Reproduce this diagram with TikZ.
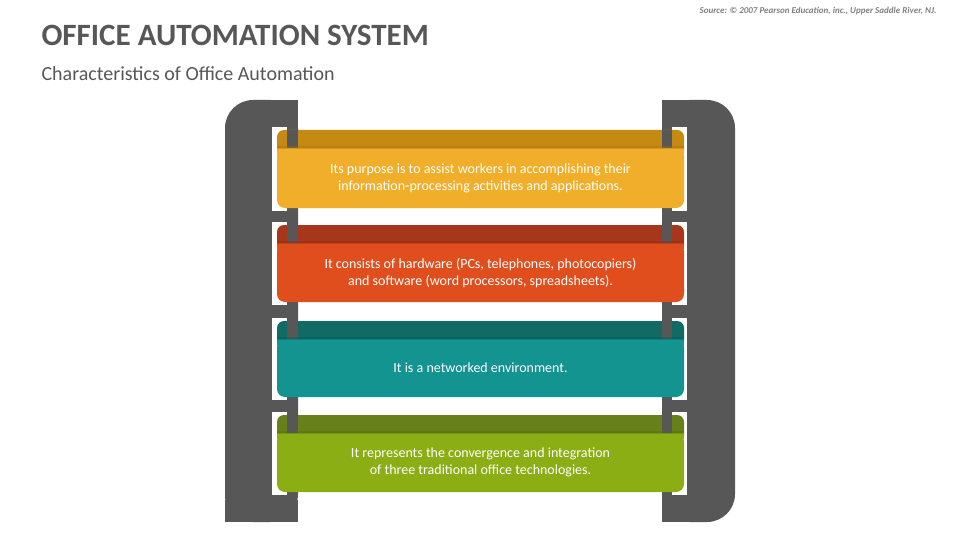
\documentclass[tikz,border=0pt]{standalone}
\usepackage{fontspec}
\setmainfont{Carlito}
\begin{document}
\begin{tikzpicture}[x=1pt,y=-1pt]
\definecolor{post}{HTML}{575757}
\definecolor{tA}{HTML}{C48A12}\definecolor{bA}{HTML}{F0AE2A}
\definecolor{tB}{HTML}{A8361A}\definecolor{bB}{HTML}{E04E1E}
\definecolor{tC}{HTML}{0F6B63}\definecolor{bC}{HTML}{139490}
\definecolor{tD}{HTML}{67801A}\definecolor{bD}{HTML}{8AAE14}
\tikzset{txt/.style={text=white,font=\fontsize{14}{17}\selectfont,align=center}}
\useasboundingbox (0,0) rectangle (960,540);
\fill[white] (0,0) rectangle (960,540);
\node[anchor=west,font=\bfseries\fontsize{31}{34}\selectfont,text=post] (title) at (38,35) {OFFICE AUTOMATION SYSTEM};
\node[anchor=west,font=\fontsize{20}{24}\selectfont,text=post] (sub) at (38,74) {Characteristics of Office Automation};
\node[anchor=east,font=\bfseries\itshape\fontsize{9}{11}\selectfont,text=gray] (src) at (940,11) {Source: © 2007 Pearson Education, inc., Upper Saddle River, NJ.};
% posts
\fill[post,rounded corners=28pt] (225,100) -- (298,100) -- (298,522) -- (225,522)[sharp corners] -- (225,522) [rounded corners=28pt]-- cycle;
\fill[post] (225,500) rectangle (298,522);
\fill[post] (250,100) rectangle (298,130);
\fill[post,rounded corners=28pt] (662,100) -- (735,100) -- (735,522) -- (662,522) -- cycle;
\fill[post] (662,100) rectangle (700,522);
% bands
\foreach \t/\b/\ct/\cb/\n in {130/208/tA/bA/1,225/302/tB/bB/2,321/397/tC/bC/3,415/492/tD/bD/4}{
  \fill[white] (272,\t-3) rectangle (287,\b+3);
  \fill[white] (672,\t-3) rectangle (687,\b+3);
  \fill[\ct,rounded corners=7pt] (277,\t) rectangle (684,\t+28);
  \fill[post] (287,\t) rectangle (298,\t+22);
  \fill[post] (662,\t) rectangle (672,\t+22);
  \fill[\cb,rounded corners=8pt] (277,\t+18) rectangle (684,\b);
  \fill[\cb] (277,\t+18) rectangle (684,\t+24);
  \fill[\ct!80!black,opacity=0.35] (277,\t+16) rectangle (684,\t+19);
}
\node[txt] (n1) at (480.5,178) {Its purpose is to assist workers in accomplishing their\\information-processing activities and applications.};
\node[txt] (n2) at (480.5,273) {It consists of hardware (PCs, telephones, photocopiers)\\and software (word processors, spreadsheets).};
\node[txt] (n3) at (480.5,368) {It is a networked environment.};
\node[txt] (n4) at (480.5,462) {It represents the convergence and integration\\of three traditional office technologies.};
\end{tikzpicture}
\end{document}
